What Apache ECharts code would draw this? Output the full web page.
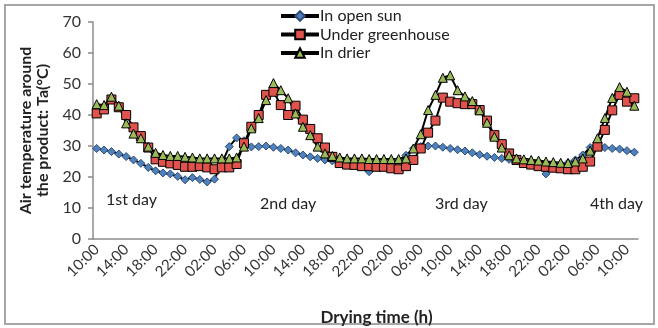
<!DOCTYPE html>
<html><head><meta charset="utf-8">
<script src="https://cdn.jsdelivr.net/npm/echarts@6/dist/echarts.min.js"></script>
<style>html,body{margin:0;padding:0;background:#fff}#c{width:658px;height:328px}</style>
</head><body><div id="c"></div>
<script>
const categories = [
  "10:00","11:00","12:00","13:00","14:00","15:00","16:00","17:00","18:00","19:00","20:00","21:00","22:00","23:00",
  "00:00","01:00","02:00","03:00","04:00","05:00","06:00","07:00","08:00","09:00","10:00","11:00","12:00","13:00",
  "14:00","15:00","16:00","17:00","18:00","19:00","20:00","21:00","22:00","23:00",
  "00:00","01:00","02:00","03:00","04:00","05:00","06:00","07:00","08:00","09:00","10:00","11:00","12:00","13:00",
  "14:00","15:00","16:00","17:00","18:00","19:00","20:00","21:00","22:00","23:00",
  "00:00","01:00","02:00","03:00","04:00","05:00","06:00","07:00","08:00","09:00","10:00","11:00"
];
const openSun = [29.2,28.7,28.2,27.4,26.6,25.5,24.4,23.1,22,21.3,21,20.2,19.1,19.8,19.2,18.4,19.3,24.5,29.8,32.6,
  31.7,29.7,29.8,30,29.6,29.2,28.7,27.8,27.1,26.5,26,25.5,25.2,24.8,24.5,24.2,23.8,21.7,24,24.5,
  25,25.5,27,29.2,29.8,30,30,29.6,29.2,28.8,28.4,27.8,27.2,26.7,26.3,26,25.7,25.5,25.2,25,
  24.6,21,24,24.3,24.6,25.5,27.1,29.5,29.8,29.5,29.2,29,28.5,28];
const greenhouse = [40.5,41.8,45,42.5,40,36,33.2,29.5,25.7,24.9,24.4,23.9,23.3,23.3,23.5,23.1,22.5,23.1,23.1,24.2,
  30.9,36.2,40,46.5,47.5,43.2,40,43,38.5,35.5,32.5,29.5,26.5,24.5,24,23.9,23.5,23.5,23.3,23.3,
  22.8,22.5,23.5,25.5,29.2,34.3,38.2,45.6,44.3,43.8,43.5,43.5,41.6,38.2,33.5,30.6,27.6,25.5,24.5,24,
  23.5,23.3,23,22.8,22.5,22.5,23.3,25,29.8,35.2,41.5,46.5,44.3,45.4];
const drier = [43.5,43.2,45.9,43,37.3,34,32.5,29.8,27.8,27.1,26.8,26.8,26.5,26.3,26,26,26,26,26,26.3,
  29.8,35.7,39,44.8,50.3,48,45.4,40.5,36.2,33.5,29.8,27.6,26.8,26.3,26,26,26,25.8,25.8,25.8,
  25.8,25.8,26,29.2,33.8,41.6,46.5,52,52.8,48,46,44.5,41.5,37.5,33,29.5,27,26,25.7,25.5,
  25.3,25,24.8,24.6,24.5,25,26,28.5,32.5,39,45.5,49,47.5,43];
const seriesNames = ["In open sun","Under greenhouse","In drier"];
const dayLabels = ["1st day","2nd day","3rd day","4th day"];
const FONT = 'Lato, "Open Sans", sans-serif';

const chart = echarts.init(document.getElementById('c'), null, {renderer:'canvas'});
const lineStyle = {color:'#000', width:2};
chart.setOption({
  animation:false,
  backgroundColor:'#fff',
  grid:{left:93, right:20, top:22, bottom:89, containLabel:false, outerBoundsMode:'none'},
  legend:{
    orient:'vertical', left:274, top:3, itemWidth:38, itemHeight:12, itemGap:2.5,
    textStyle:{fontFamily:FONT, fontSize:16, lineHeight:16, color:'#222', padding:[0,0,0,-4]},
    lineStyle:{width:4, color:'#000'},
    data:seriesNames
  },
  xAxis:{
    type:'category', data:categories, boundaryGap:true,
    name:'Drying time (h)', nameLocation:'middle', nameGap:70,
    nameTextStyle:{fontFamily:FONT, fontSize:17, fontWeight:'bold', color:'#222', padding:[0,0,0,22]},
    axisLine:{lineStyle:{color:'#8c8c8c', width:1.5}},
    axisTick:{interval:1, length:5, lineStyle:{color:'#8c8c8c', width:1.5}},
    axisLabel:{interval:3, rotate:45, margin:8, fontFamily:FONT, fontSize:15, color:'#333'}
  },
  yAxis:{
    type:'value', min:0, max:70, interval:10,
    name:'Air temperature around\nthe product: Ta(°C)', nameLocation:'middle', nameRotate:90, nameGap:28,
    nameTextStyle:{fontFamily:FONT, fontSize:16, fontWeight:'bold', color:'#222', lineHeight:17},
    axisLine:{show:true, lineStyle:{color:'#8c8c8c', width:1.5}},
    axisTick:{show:true, length:5, lineStyle:{color:'#8c8c8c', width:1.5}},
    splitLine:{show:false},
    axisLabel:{margin:12, fontFamily:FONT, fontSize:16, color:'#333'}
  },
  series:[
    {name:seriesNames[0], type:'line', data:openSun, symbol:'diamond', symbolSize:8, showAllSymbol:true,
     lineStyle:lineStyle, itemStyle:{color:'#4f81bd', borderColor:'#2c4d75', borderWidth:1}},
    {name:seriesNames[1], type:'line', data:greenhouse, symbol:'rect', symbolSize:9, showAllSymbol:true,
     lineStyle:lineStyle, itemStyle:{color:'#e0524c', borderColor:'#000', borderWidth:1}},
    {name:seriesNames[2], type:'line', data:drier, symbol:'triangle', symbolSize:9, showAllSymbol:true,
     lineStyle:lineStyle, itemStyle:{color:'#9bbb59', borderColor:'#000', borderWidth:1}}
  ],
  graphic:[
    {type:'rect', shape:{x:5, y:5, width:649, height:319}, style:{fill:'none', stroke:'#a6a6a6', lineWidth:2}, silent:true, z:-1},
    {type:'text', left:106, top:192, style:{text:dayLabels[0], font:'16px '+FONT, fill:'#222'}},
    {type:'text', left:260, top:196, style:{text:dayLabels[1], font:'16px '+FONT, fill:'#222'}},
    {type:'text', left:435, top:196, style:{text:dayLabels[2], font:'16px '+FONT, fill:'#222'}},
    {type:'text', left:590, top:196, style:{text:dayLabels[3], font:'16px '+FONT, fill:'#222'}}
  ]
});
</script></body></html>
